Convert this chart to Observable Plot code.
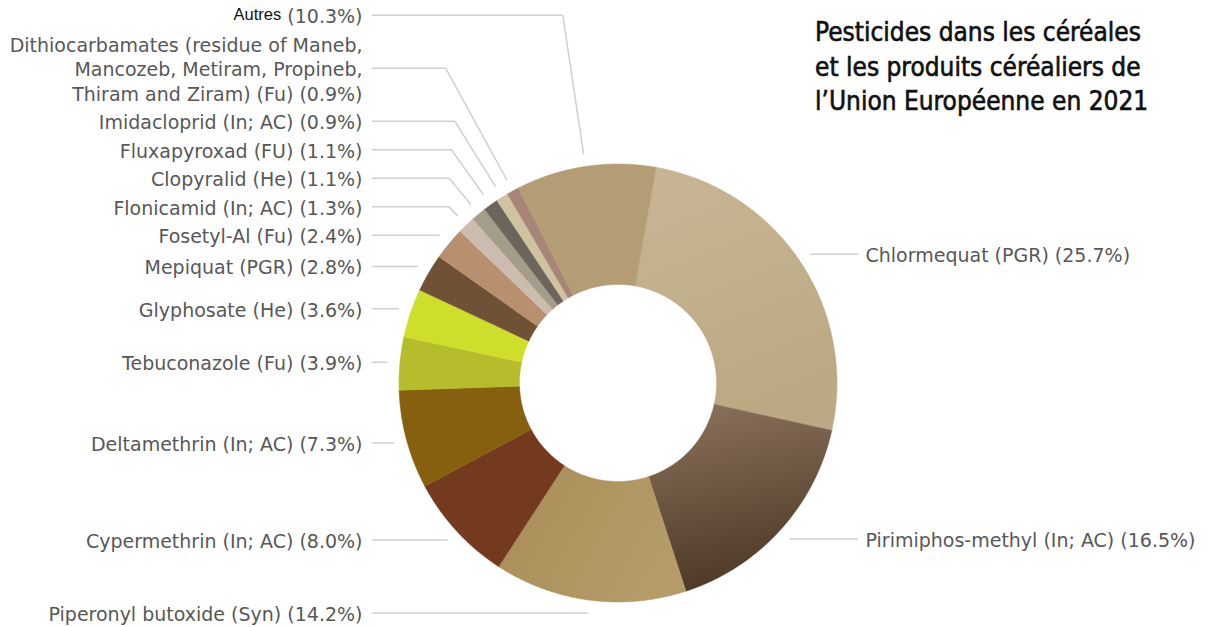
<!DOCTYPE html>
<html><head><meta charset="utf-8">
<script src="https://cdn.jsdelivr.net/npm/d3@7"></script>
<script src="https://cdn.jsdelivr.net/npm/@observablehq/plot@0.6"></script>
<style>
html,body{margin:0;padding:0;background:#fff;}
#wrap{position:relative;width:1212px;height:627px;overflow:hidden;}
#title{position:absolute;left:815px;top:15px;font-family:"DejaVu Sans Condensed","DejaVu Sans",sans-serif;font-stretch:condensed;font-size:26px;line-height:34.5px;color:#111;white-space:nowrap;-webkit-text-stroke:0.6px #111;}
</style></head><body><div id="wrap"><div id="chart"></div><div id="title"></div></div>
<script>
const titleLines = ["Pesticides dans les céréales", "et les produits céréaliers de", "l’Union Européenne en 2021"];

const names = [
  "Chlormequat (PGR)",
  "Pirimiphos-methyl (In; AC)",
  "Piperonyl butoxide (Syn)",
  "Cypermethrin (In; AC)",
  "Deltamethrin (In; AC)",
  "Tebuconazole (Fu)",
  "Glyphosate (He)",
  "Mepiquat (PGR)",
  "Fosetyl-Al (Fu)",
  "Flonicamid (In; AC)",
  "Clopyralid (He)",
  "Fluxapyroxad (FU)",
  "Imidacloprid (In; AC)",
  "Dithiocarbamates (residue of Maneb,\nMancozeb, Metiram, Propineb,\nThiram and Ziram) (Fu)",
  "Autres"
];
const values = [25.7, 16.5, 14.2, 8.0, 7.3, 3.9, 3.6, 2.8, 2.4, 1.3, 1.1, 1.1, 0.9, 0.9, 10.3];
const colors = [
  "url(#gChlor)", "url(#gPiri)", "url(#gPipe)", "#743a1f", "#86600f",
  "#b6bd2c", "#cfde2a", "#6f5236", "#b88f6f", "#cbbcae",
  "#a39d8a", "#6d655b", "#d0c3a2", "#a98479", "#b49c74"
];
// gradient stops for the shaded slices
const gradients = [
  {id: "gChlor", x2: 0.3, y2: 1, from: "#c8b594", to: "#bca983"},
  {id: "gPiri", x2: 0.2, y2: 1, from: "#8c735d", to: "#4f3a28"},
  {id: "gPipe", x2: 1, y2: 0.4, from: "#a98d57", to: "#b49b68"}
];
const startAngle = 10; // degrees clockwise from top

// geometry (in scale units = px relative to the donut centre)
const R = 219, R0 = 98.5, RC = 232;
const cx = 617.5, cy = 382.5, W = 1212, H = 627;
const leftTextX = -255.5, leftEdgeX = -245.5, rightEdgeX = 239.5, rightTextX = 247.5;
const lineH = 24.5;

const rad = a => a * Math.PI / 180;
const total = d3.sum(values);
let acc = startAngle;
const slices = names.map((name, i) => {
  const a0 = acc, a1 = acc + values[i] / total * 360;
  acc = a1;
  return {name, value: values[i], a0, a1, mid: (a0 + a1) / 2};
});

// slice polygons
const pts = [];
for (const s of slices) {
  const n = Math.max(2, Math.ceil((s.a1 - s.a0) / 0.4));
  const ring = [];
  for (let k = 0; k <= n; k++) {
    const a = rad(s.a0 + (s.a1 - s.a0) * k / n);
    ring.push({name: s.name, x: R * Math.sin(a), y: -R * Math.cos(a)});
  }
  for (let k = n; k >= 0; k--) {
    const a = rad(s.a0 + (s.a1 - s.a0) * k / n);
    ring.push({name: s.name, x: R0 * Math.sin(a), y: -R0 * Math.cos(a)});
  }
  ring.push({...ring[0]});
  pts.push(...ring);
}

// labels with simple collision avoidance
const labels = slices.map(s => {
  const a = rad(s.mid);
  const ex = RC * Math.sin(a), ey = -RC * Math.cos(a);
  const lines = s.name.split("\n").length;
  return {...s, ex, ey, side: s.mid < 180 ? "right" : "left", h: lines * lineH + 4, ly: ey};
});
const left = labels.filter(d => d.side === "left").sort((a, b) => b.ey - a.ey);
let prevTop = Infinity;
for (const d of left) { d.ly = Math.min(d.ey, prevTop - d.h / 2); prevTop = d.ly - d.h / 2; }
const right = labels.filter(d => d.side === "right").sort((a, b) => a.ey - b.ey);
let prevBot = -Infinity;
for (const d of right) { d.ly = Math.max(d.ey, prevBot + d.h / 2); prevBot = d.ly + d.h / 2; }

// connectors
const conn = [];
for (const d of labels) {
  const a = rad(d.mid);
  const dx = Math.sin(a), dy = -Math.cos(a);
  const edge = d.side === "left" ? leftEdgeX : rightEdgeX;
  conn.push({id: d.name, x: d.ex, y: d.ey});
  const t = Math.abs(dy) > 0.05 ? (d.ly - d.ey) / dy : 0;
  if (t > 0.5) conn.push({id: d.name, x: d.ex + t * dx, y: d.ly});
  conn.push({id: d.name, x: edge, y: d.ly});
}

const pct = d => "(" + d.value.toFixed(1) + "%)";
const labelFont = "DejaVu Sans";
const ctx = document.createElement("canvas").getContext("2d");
ctx.font = "19px 'DejaVu Sans'";
const measure = s => ctx.measureText(s).width;

const special = labels.filter(d => d.name === "Autres");
const normal = labels.filter(d => d.name !== "Autres");

const textOpts = {fontSize: 19, fontFamily: labelFont, fill: "#585858", lineHeight: lineH / 19, lineAnchor: "middle"};

const chart = Plot.plot({
  width: W, height: H, margin: 0,
  x: {domain: [-cx, W - cx], axis: null},
  y: {domain: [H - cy, -cy], axis: null},
  color: {domain: names, range: colors},
  style: {background: "#fff"},
  marks: [
    Plot.line(conn, {x: "x", y: "y", z: "id", stroke: "#cfcfcf", strokeWidth: 1.5, curve: "linear"}),
    Plot.line(pts, {x: "x", y: "y", z: "name", fill: "name", stroke: "name", strokeWidth: 0.5, curve: "linear"}),
    Plot.text(normal.filter(d => d.side === "left"), {...textOpts, x: () => leftTextX, y: "ly", text: d => d.name + " " + pct(d), textAnchor: "end"}),
    Plot.text(normal.filter(d => d.side === "right"), {...textOpts, x: () => rightTextX, y: "ly", text: d => d.name + " " + pct(d), textAnchor: "start"}),
    Plot.text(special, {...textOpts, x: () => leftTextX, y: "ly", text: pct, textAnchor: "end"}),
    Plot.text(special, {fontSize: 16.5, fontFamily: "Liberation Sans", fill: "#111", lineAnchor: "middle",
      x: d => leftTextX - measure(pct(d)) - measure(" "), y: d => d.ly - 1, text: "name", textAnchor: "end"})
  ]
});

// gradient definitions referenced by the colour range
const NS = "http://www.w3.org/2000/svg";
const defs = document.createElementNS(NS, "defs");
for (const g of gradients) {
  const lg = document.createElementNS(NS, "linearGradient");
  lg.setAttribute("id", g.id);
  lg.setAttribute("x1", 0); lg.setAttribute("y1", 0);
  lg.setAttribute("x2", g.x2); lg.setAttribute("y2", g.y2);
  for (const [off, c] of [[0, g.from], [1, g.to]]) {
    const st = document.createElementNS(NS, "stop");
    st.setAttribute("offset", off); st.setAttribute("stop-color", c);
    lg.appendChild(st);
  }
  defs.appendChild(lg);
}
chart.insertBefore(defs, chart.firstChild);
document.getElementById("chart").appendChild(chart);

const t = document.getElementById("title");
for (const l of titleLines) { const div = document.createElement("div"); div.textContent = l; t.appendChild(div); }
</script>
</body></html>
